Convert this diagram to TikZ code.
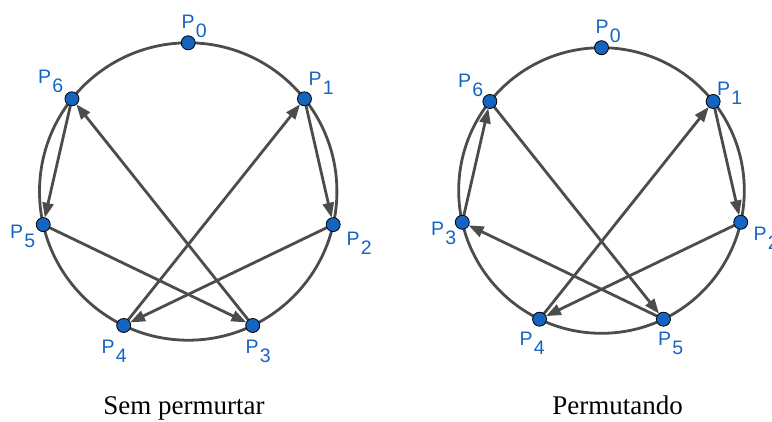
\documentclass[tikz,border=0pt]{standalone}
\usepackage{fontspec}
\setmainfont{Liberation Serif}
\setsansfont{Liberation Sans}
\usetikzlibrary{arrows.meta}
\definecolor{ptblue}{RGB}{21,101,192}
\definecolor{edgegray}{RGB}{76,76,76}
\newcommand\plab[1]{P\kern1.2pt\raisebox{-9pt}{#1}}
\pgfdeclarelayer{bg}
\pgfsetlayers{bg,main}
\begin{document}
\begin{tikzpicture}[x=1pt,y=-1pt,
  ring/.style={draw=edgegray, line width=2.8pt},
  chord/.style={draw=edgegray, line width=2.8pt, -{Triangle[length=15pt,width=11pt]}},
  dot/.style={circle, minimum size=14pt, inner sep=0pt, outer sep=0pt, fill=ptblue, draw=black, line width=0.8pt},
  lab/.style={anchor=base west, inner sep=0pt, text=ptblue, font=\sffamily\fontsize{19.5}{19.5}\selectfont},
  captext/.style={anchor=base, inner sep=0pt, font=\fontsize{27}{27}\selectfont}]
\useasboundingbox (0,0) rectangle (772,421);
% left figure
\begin{scope}[shift={(188.2,191.5)}, yscale=-1]
  \node[dot] (a0) at (90:148.7) {};
  \node[dot] (a1) at (38.57:148.7) {};
  \node[dot] (a2) at (-12.86:148.7) {};
  \node[dot] (a3) at (-64.29:148.7) {};
  \node[dot] (a4) at (-115.71:148.7) {};
  \node[dot] (a5) at (-167.14:148.7) {};
  \node[dot] (a6) at (141.43:148.7) {};
  \begin{pgfonlayer}{bg}
    \draw[ring] (0,0) circle (148.7);
  \end{pgfonlayer}
\end{scope}
\begin{pgfonlayer}{bg}
  \draw[chord] (a1) -- (a2);
  \draw[chord] (a2) -- (a4);
  \draw[chord] (a4) -- (a1);
  \draw[chord] (a5) -- (a3);
  \draw[chord] (a3) -- (a6);
  \draw[chord] (a6) -- (a5);
\end{pgfonlayer}
\node[lab] (la0) at (181.5,28.3) {\plab{0}};
\node[lab] (la1) at (308.5,85) {\plab{1}};
\node[lab] (la2) at (346.5,245) {\plab{2}};
\node[lab] (la3) at (245.5,353) {\plab{3}};
\node[lab] (la4) at (101.5,353) {\plab{4}};
\node[lab] (la5) at (10,238.3) {\plab{5}};
\node[lab] (la6) at (38,83.3) {\plab{6}};
% right figure
\begin{scope}[shift={(601.5,190.5)}, yscale=-1]
  \node[dot] (b0) at (90:142.8) {};
  \node[dot] (b1) at (38.57:142.8) {};
  \node[dot] (b2) at (-12.86:142.8) {};
  \node[dot] (b5) at (-64.29:142.8) {};
  \node[dot] (b4) at (-115.71:142.8) {};
  \node[dot] (b3) at (-167.14:142.8) {};
  \node[dot] (b6) at (141.43:142.8) {};
  \begin{pgfonlayer}{bg}
    \draw[ring] (0,0) circle (142.8);
  \end{pgfonlayer}
\end{scope}
\begin{pgfonlayer}{bg}
  \draw[chord] (b1) -- (b2);
  \draw[chord] (b2) -- (b4);
  \draw[chord] (b4) -- (b1);
  \draw[chord] (b6) -- (b5);
  \draw[chord] (b5) -- (b3);
  \draw[chord] (b3) -- (b6);
\end{pgfonlayer}
\node[lab] (lb0) at (595.5,33.3) {\plab{0}};
\node[lab] (lb1) at (717,95) {\plab{1}};
\node[lab] (lb2) at (753.5,240) {\plab{2}};
\node[lab] (lb3) at (431,235) {\plab{3}};
\node[lab] (lb4) at (519.5,345) {\plab{4}};
\node[lab] (lb5) at (658,345) {\plab{5}};
\node[lab] (lb6) at (458,87.3) {\plab{6}};
% captions
\node[captext] (c1) at (184,414) {Sem permurtar};
\node[captext] (c2) at (617.5,414) {Permutando};
\end{tikzpicture}
\end{document}
